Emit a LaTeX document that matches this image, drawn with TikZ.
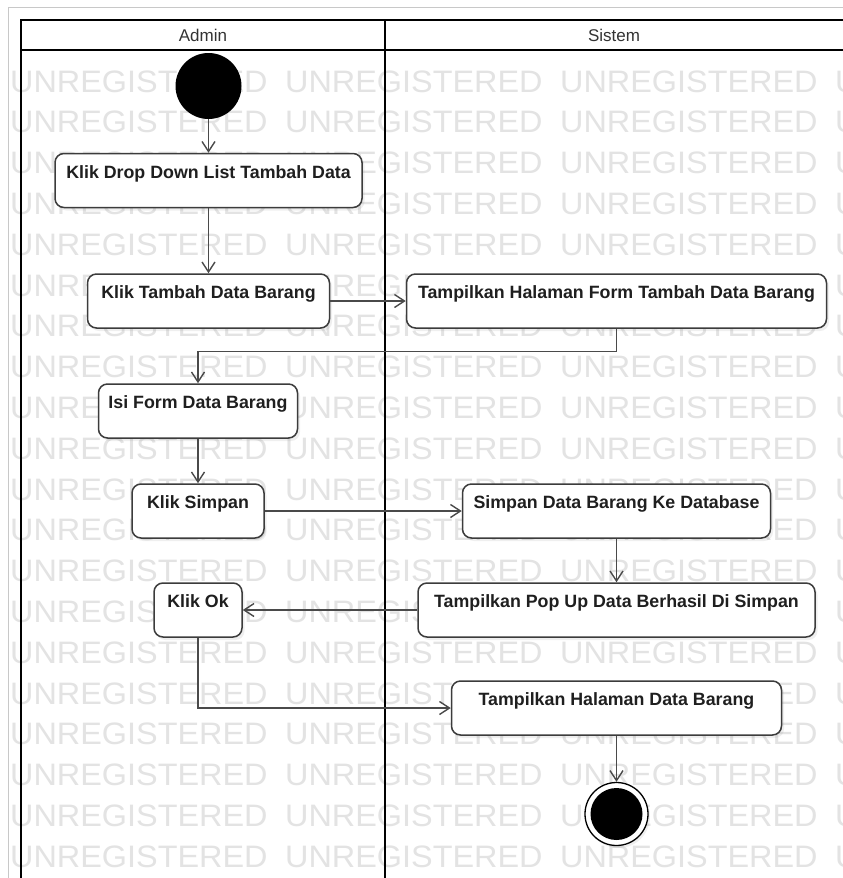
\documentclass[tikz,border=0pt]{standalone}
\usepackage{fontspec}
\setmainfont{Liberation Sans}
\usetikzlibrary{arrows.meta,shadows}
\definecolor{wmgray}{HTML}{E3E3E3}
\definecolor{edgegray}{HTML}{3C3C3C}
\definecolor{flowgray}{HTML}{4A4A4A}
\definecolor{labelgray}{HTML}{333333}
\definecolor{framegray}{HTML}{C8C8C8}

\begin{document}
\begin{tikzpicture}[x=1pt,y=-1pt,
  act/.style={draw=edgegray, fill=white, line width=1.5pt, rounded corners=9pt,
    inner xsep=0pt, inner ysep=0pt, text height=24.5pt, text depth=29.5pt,
    font=\bfseries\fontsize{17.8}{20}\selectfont, text=black!88,
    drop shadow={shadow xshift=2.5pt, shadow yshift=-3pt, opacity=0.12}},
  flow/.style={draw=flowgray, line width=1.4pt, -{Straight Barb[length=10pt,width=13pt]}},
  lane/.style={draw=black, line width=2.6pt},
  wm/.style={text=wmgray, anchor=base west, inner sep=0pt, font=\fontsize{31}{31}\selectfont},
  lanehead/.style={text=labelgray, font=\fontsize{17}{20}\selectfont, inner sep=0pt}
]
\useasboundingbox (0,0) rectangle (843,878);
\clip (0,0) rectangle (843,878);
\fill[white] (0,0) rectangle (843,878);

% tiled watermark
\foreach \k in {0,...,19}
  \foreach \j in {0,...,3}
    \node[wm] (wm-\k-\j) at ({10+275*\j}, {92+40.8*\k}) {\scalebox{1.045}[1]{UNREGISTERED}};

% thin outer frame
\draw[framegray, line width=1pt] (8,900) -- (8,7) -- (860,7);

% swimlanes
\draw[lane] (21,900) -- (21,20) -- (870,20);
\draw[lane] (21,50) -- (870,50);
\draw[lane] (385,20) -- (385,900);
\node[lanehead] (hAdmin) at (203,35) {Admin};
\node[lanehead] (hSistem) at (614,35) {Sistem};

% start / end
\node[circle, fill=black, minimum size=66pt, inner sep=0pt] (start) at (208.5,86) {};
\node[circle, draw=black, line width=1.3pt, fill=white, minimum size=63pt, inner sep=0pt,
      drop shadow={shadow xshift=2pt, shadow yshift=-2.5pt, opacity=0.12}] (end) at (616.5,814) {};
\node[circle, fill=black, minimum size=52pt, inner sep=0pt] (endDot) at (end.center) {};

% actions
\node[act, minimum width=307pt] (n1) at (208.5,180.5) {Klik Drop Down List Tambah Data};
\node[act, minimum width=242pt] (n2) at (208.5,301) {Klik Tambah Data Barang};
\node[act, minimum width=420pt] (n3) at (616.5,301) {Tampilkan Halaman Form Tambah Data Barang};
\node[act, minimum width=199pt] (n4) at (198,411) {Isi Form Data Barang};
\node[act, minimum width=132pt] (n5) at (198,511) {Klik Simpan};
\node[act, minimum width=308pt] (n6) at (616.5,511) {Simpan Data Barang Ke Database};
\node[act, minimum width=397pt] (n7) at (616.5,610) {Tampilkan Pop Up Data Berhasil Di Simpan};
\node[act, minimum width=88pt] (n8) at (198,610) {Klik Ok};
\node[act, minimum width=330pt] (n9) at (616.5,708) {Tampilkan Halaman Data Barang};

% control flow
\draw[flow] (start) -- (n1);
\draw[flow] (n1) -- (n2);
\draw[flow] (n2) -- (n3);
\draw[flow] (n3.south) -- ++(0,23) -| (n4.north);
\draw[flow] (n4) -- (n5);
\draw[flow] (n5) -- (n6);
\draw[flow] (n6) -- (n7);
\draw[flow] (n7) -- (n8);
\draw[flow] (n8.south) |- (n9.west);
\draw[flow] (n9) -- (end);
\end{tikzpicture}
\end{document}
